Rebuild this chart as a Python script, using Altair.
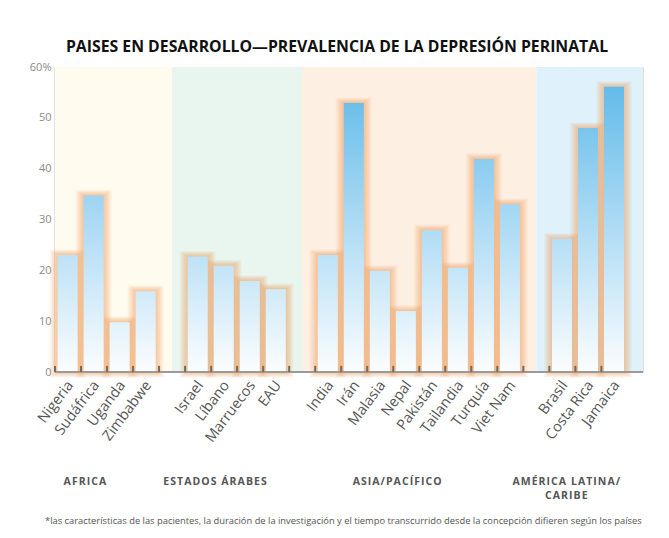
import altair as alt
import pandas as pd

TITLE = "PAISES EN DESARROLLO—PREVALENCIA DE LA DEPRESIÓN PERINATAL"
FOOTNOTE = ("*las características de las pacientes, la duración de la investigación y el tiempo "
            "transcurrido desde la concepción difieren según los países")

region_names = ["AFRICA", "ESTADOS ÁRABES", "ASIA/PACÍFICO", "AMÉRICA LATINA/\nCARIBE"]

africa_countries = ["Nigeria", "Sudáfrica", "Uganda", "Zimbabwe"]
africa_values = [23.0, 34.7, 9.8, 15.9]

arab_countries = ["Israel", "Líbano", "Marruecos", "EAU"]
arab_values = [22.7, 20.9, 17.9, 16.3]

asia_countries = ["India", "Irán", "Malasia", "Nepal", "Pakistán", "Tailandia", "Turquía", "Viet Nam"]
asia_values = [23.0, 52.9, 19.9, 12.0, 27.9, 20.5, 41.9, 33.0]

latam_countries = ["Brasil", "Costa Rica", "Jamaica"]
latam_values = [26.2, 48.0, 56.1]

y_tick_values = [0, 10, 20, 30, 40, 50, 60]

region_countries = [africa_countries, arab_countries, asia_countries, latam_countries]
region_values = [africa_values, arab_values, asia_values, latam_values]

# ---- styling / layout ----
region_colors = ["#fffbee", "#e9f5ef", "#fdefe2", "#dff2fb"]
PLOT_W, PLOT_H = 588, 305
BAR_L, BAR_R = 0.1, 0.87
FONT = "Open Sans"
TEXT_GRAY = "#555555"

rows, region_rows = [], []
slot = 0
for r, (name, cs, vs) in enumerate(zip(region_names, region_countries, region_values)):
    first = slot
    for c, v in zip(cs, vs):
        rows.append(dict(country=c, value=v, slot=slot, region=name))
        slot += 1
    region_rows.append(dict(region=name, first=first, last=slot))
    if r < len(region_names) - 1:
        slot += 1
n_slots = slot
X_MAX = n_slots + 0.6
SLOT_PX = PLOT_W / X_MAX
UNIT_PX = PLOT_H / 60.0

prev = 0.0
for i, rr in enumerate(region_rows):
    rr["x0"] = prev
    rr["x1"] = X_MAX if i == len(region_rows) - 1 else rr["last"] + 0.5
    prev = rr["x1"]
    rr["lx"] = (rr["first"] + rr["last"]) / 2 - 0.85
    rr["label"] = "\n".join("\u200a".join(line) for line in rr["region"].split("\n"))

df = pd.DataFrame(rows)
df["lx"] = df["slot"] + 0.6
reg = pd.DataFrame(region_rows)
ticks = pd.DataFrame({"b": list(range(n_slots))})

xs = alt.Scale(domain=[0, X_MAX], nice=False, zero=False)
ys = alt.Scale(domain=[0, 60], nice=False)
Y_AXIS = alt.Axis(values=y_tick_values, labelExpr="datum.value == 60 ? '60%' : datum.label",
                  ticks=False, grid=False, domainColor="#8c8c8c", domainWidth=1.5,
                  labelColor="#8a8a8a", labelFontSize=11, labelFont=FONT, labelPadding=4,
                  title=None)

layers = []

# backgrounds
layers.append(
    alt.Chart(reg).mark_rect().encode(
        x=alt.X("x0:Q", scale=xs, axis=None),
        x2="x1:Q",
        y=alt.Y("top:Q", scale=ys, axis=Y_AXIS),
        y2="bottom:Q",
        color=alt.Color("region:N", scale=alt.Scale(domain=region_names, range=region_colors), legend=None),
    ).transform_calculate(top="60", bottom="0")
)

# soft orange glow: many growing, faint rectangles (spread in pixels)
for px in [8.0, 7.0, 6.0, 5.2, 4.4, 3.6, 2.8, 2.0, 1.3, 0.6]:
    d = px / SLOT_PX
    dy = 0.7 * px / UNIT_PX
    layers.append(
        alt.Chart(df).transform_calculate(
            hx0=f"datum.slot + {BAR_L - d}",
            hx1=f"datum.slot + {BAR_R + d}",
            hy=f"datum.value + {dy}",
            hy0=f"{-dy}",
        ).mark_rect(color="#f4a263", opacity=0.08).encode(
            x=alt.X("hx0:Q", scale=xs, axis=None),
            x2="hx1:Q",
            y=alt.Y("hy:Q", scale=ys, axis=Y_AXIS),
            y2="hy0:Q",
        )
    )

# bars with a gradient fixed to the value scale
TOP = (98, 186, 233)
BOT = (251, 253, 255)


def col_at(v):
    t = min(v / 57.0, 1.0)
    c = [round(BOT[k] + (TOP[k] - BOT[k]) * t) for k in range(3)]
    return "#%02x%02x%02x" % tuple(c)


for row in rows:
    grad = alt.Gradient(
        gradient="linear",
        stops=[alt.GradientStop(color=col_at(row["value"]), offset=0),
               alt.GradientStop(color="#fbfdff", offset=1)],
        x1=0, x2=0, y1=0, y2=1,
    )
    layers.append(
        alt.Chart(df).transform_filter(alt.datum.country == row["country"]).transform_calculate(
            bx0=f"datum.slot + {BAR_L}", bx1=f"datum.slot + {BAR_R}", b0="0"
        ).mark_rect(fill=grad).encode(
            x=alt.X("bx0:Q", scale=xs, axis=None),
            x2="bx1:Q",
            y=alt.Y("value:Q", scale=ys, axis=Y_AXIS),
            y2="b0:Q",
        )
    )

# baseline
layers.append(
    alt.Chart(ticks).transform_aggregate(n="count()").transform_calculate(z="0").mark_rule(
        color="#9a9a9a", strokeWidth=2
    ).encode(x=alt.value(0), x2=alt.value(PLOT_W), y=alt.Y("z:Q", scale=ys, axis=Y_AXIS))
)

# slot ticks
layers.append(
    alt.Chart(ticks).transform_calculate(t0="0", t1="1.2").mark_rule(color="#7a6a5c", strokeWidth=2).encode(
        x=alt.X("b:Q", scale=xs, axis=None),
        y=alt.Y("t0:Q", scale=ys, axis=Y_AXIS),
        y2="t1:Q",
    )
)

# country labels
layers.append(
    alt.Chart(df).mark_text(angle=307, align="right", baseline="middle", font=FONT,
                            fontSize=14.5, color=TEXT_GRAY).encode(
        x=alt.X("lx:Q", scale=xs, axis=None),
        y=alt.value(PLOT_H + 11),
        text="country:N",
    )
)

# region labels
layers.append(
    alt.Chart(reg).mark_text(align="center", baseline="alphabetic", font=FONT, fontSize=10.5,
                             fontWeight="bold", color=TEXT_GRAY, lineBreak="\n", lineHeight=14).encode(
        x=alt.X("lx:Q", scale=xs, axis=None),
        y=alt.value(418),
        text="label:N",
    )
)

# footnote
layers.append(
    alt.Chart(pd.DataFrame({"t": [FOOTNOTE]})).mark_text(
        align="left", baseline="alphabetic", font=FONT, fontSize=9.35, color=TEXT_GRAY
    ).encode(x=alt.value(-10), y=alt.value(457), text="t:N")
)

chart = alt.layer(*layers).properties(
    width=PLOT_W,
    height=PLOT_H,
    autosize=alt.AutoSizeParams(type="none"),
    padding={"left": 47, "top": 59, "right": 18, "bottom": 158},
    title=alt.TitleParams(TITLE, font=FONT, fontSize=15.8, fontWeight="bold", color="#111111",
                          anchor="middle", dx=-12, offset=5),
).configure_view(strokeWidth=0).configure(background="white")

chart.save("out.html", embed_options={"renderer": "svg", "actions": False})
